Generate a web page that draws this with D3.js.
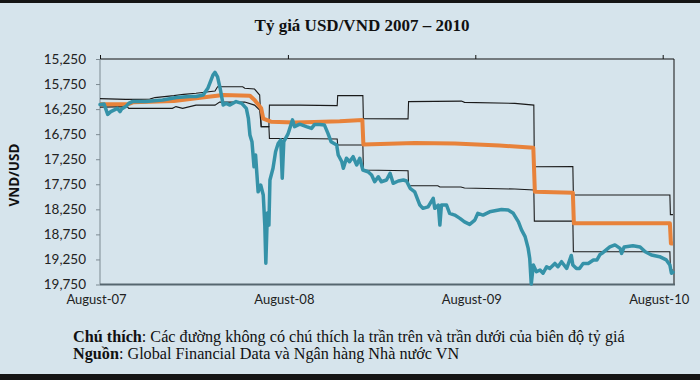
<!DOCTYPE html>
<html>
<head>
<meta charset="utf-8">
<script src="https://cdn.jsdelivr.net/npm/d3@7"></script>
<style>
  html, body { margin: 0; padding: 0; background: #ffffff; }
  svg { display: block; }
</style>
</head>
<body>
<svg id="chart" width="700" height="380"></svg>
<script>
// ---------------- DATA ----------------
const title = "Tỷ giá USD/VND 2007 – 2010";
const yAxisTitle = "VND/USD";
const yTicks = [15250, 15750, 16250, 16750, 17250, 17750, 18250, 18750, 19250, 19750];
const xTicks = ["2007-08-01", "2008-08-01", "2009-08-01", "2010-08-01"];
const xTickLabels = ["August-07", "August-08", "August-09", "August-10"];

// Official (central) rate - orange
const officialRate = [
  ["2007-08-01",16155],["2007-09-24",16155],["2007-10-04",16115],["2007-12-23",16090],
  ["2008-02-08",16030],["2008-03-28",15970],["2008-05-19",15985],["2008-05-28",16070],
  ["2008-06-10",16235],["2008-06-14",16440],["2008-06-29",16500],["2008-08-14",16515],
  ["2008-09-22",16505],["2008-11-10",16490],["2008-12-24",16465],["2008-12-26",16955],
  ["2009-04-05",16925],["2009-06-22",16935],["2009-09-17",16975],["2009-11-22",17020],
  ["2009-11-25",17900],["2010-02-07",17920],["2010-02-09",18530],["2010-08-15",18530],
  ["2010-08-17",18930],["2010-08-21",18930]
];

// Lower limit of the trading band (drawn above the orange line on the reversed axis)
const bandLower = [
  ["2007-08-01",16040],["2007-09-20",16055],["2007-11-06",16050],["2007-11-16",16020],
  ["2007-12-23",15980],["2008-01-11",15955],["2008-02-04",15935],["2008-03-12",15890],
  ["2008-03-17",15805],["2008-05-05",15805],["2008-05-09",15835],["2008-05-28",15850],
  ["2008-06-07",15970],["2008-06-10",16600],["2008-06-25",16600],["2008-06-26",16170],
  ["2008-08-24",16170],["2008-11-05",16180],["2008-11-06",15980],["2008-12-25",15980],
  ["2008-12-26",16440],["2009-03-23",16445],["2009-03-24",16100],["2009-07-05",16090],
  ["2009-07-11",16115],["2009-10-17",16135],["2009-11-23",16170],["2009-11-24",17400],
  ["2010-02-07",17395],["2010-02-08",17965],["2010-08-15",17965],["2010-08-16",18355],
  ["2010-08-21",18355]
];

// Upper limit of the trading band (drawn below the orange line on the reversed axis)
const bandUpper = [
  ["2007-08-01",16210],["2007-09-23",16200],["2007-09-26",16235],["2007-12-20",16235],
  ["2007-12-27",16200],["2008-01-09",16235],["2008-02-04",16170],["2008-03-12",16170],
  ["2008-03-21",16110],["2008-05-09",16110],["2008-05-28",16170],["2008-06-07",16270],
  ["2008-06-10",16600],["2008-06-25",16600],["2008-06-26",16835],["2008-08-24",16835],
  ["2008-11-05",16845],["2008-11-06",16965],["2008-12-25",16965],["2008-12-26",17465],
  ["2009-03-23",17480],["2009-03-24",17780],["2009-05-20",17780],["2009-05-24",17805],
  ["2009-07-04",17805],["2009-07-11",17825],["2009-10-17",17845],["2009-11-23",17865],
  ["2009-11-24",18485],["2010-02-07",18485],["2010-02-08",19095],["2010-08-15",19095],
  ["2010-08-16",19460],["2010-08-21",19460]
];

// Free-market rate - teal
const marketRate = [
  ["2007-08-01",16160],["2007-08-09",16150],["2007-08-16",16355],["2007-08-22",16300],
  ["2007-08-28",16270],["2007-09-04",16235],["2007-09-09",16300],["2007-09-12",16250],
  ["2007-09-20",16200],["2007-09-26",16135],["2007-10-03",16100],["2007-10-29",16100],
  ["2007-12-01",16070],["2007-12-28",16020],["2008-01-23",16000],["2008-02-04",16000],
  ["2008-02-18",15970],["2008-02-27",15835],["2008-03-08",15570],["2008-03-12",15515],
  ["2008-03-17",15605],["2008-03-22",15835],["2008-03-28",16170],["2008-04-03",16135],
  ["2008-04-10",16170],["2008-04-22",16100],["2008-05-03",16135],["2008-05-12",16235],
  ["2008-05-16",16435],["2008-05-19",16765],["2008-05-23",16900],["2008-05-27",17400],
  ["2008-05-30",17165],["2008-06-04",17900],["2008-06-09",17765],["2008-06-14",17965],
  ["2008-06-17",18565],["2008-06-19",19325],["2008-06-22",18325],["2008-06-25",18565],
  ["2008-06-27",17665],["2008-07-03",17430],["2008-07-08",17100],["2008-07-13",16935],
  ["2008-07-18",16865],["2008-07-21",17630],["2008-07-24",16900],["2008-08-01",16750],
  ["2008-08-10",16465],["2008-08-14",16600],["2008-08-24",16550],["2008-09-06",16600],
  ["2008-09-16",16635],["2008-09-22",16555],["2008-10-02",16555],["2008-10-11",16565],
  ["2008-10-18",16735],["2008-10-24",16900],["2008-11-04",16965],["2008-11-07",17165],
  ["2008-11-14",17300],["2008-11-17",17430],["2008-11-23",17230],["2008-11-29",17300],
  ["2008-12-06",17200],["2008-12-13",17365],["2008-12-19",17230],["2008-12-25",17465],
  ["2009-01-04",17500],["2009-01-11",17565],["2009-01-17",17700],["2009-01-24",17600],
  ["2009-01-30",17700],["2009-02-09",17665],["2009-02-16",17530],["2009-02-22",17730],
  ["2009-03-04",17685],["2009-03-14",17665],["2009-03-20",17685],["2009-03-27",17830],
  ["2009-04-05",17900],["2009-04-15",18165],["2009-04-21",18230],["2009-05-01",18200],
  ["2009-05-11",18030],["2009-05-14",18230],["2009-05-21",18165],["2009-05-24",18565],
  ["2009-05-27",18165],["2009-06-06",18165],["2009-06-12",18330],["2009-06-22",18365],
  ["2009-07-02",18430],["2009-07-11",18500],["2009-07-21",18550],["2009-07-31",18465],
  ["2009-08-06",18330],["2009-08-16",18365],["2009-08-29",18300],["2009-09-08",18280],
  ["2009-09-21",18255],["2009-10-04",18265],["2009-10-14",18330],["2009-10-24",18500],
  ["2009-10-30",18660],["2009-11-06",18795],["2009-11-12",19030],["2009-11-15",19230],
  ["2009-11-18",19740],["2009-11-22",19360],["2009-11-28",19495],["2009-12-05",19460],
  ["2009-12-11",19525],["2009-12-18",19395],["2009-12-24",19430],["2010-01-03",19330],
  ["2010-01-09",19395],["2010-01-16",19295],["2010-01-26",19430],["2010-02-04",19170],
  ["2010-02-07",19360],["2010-02-14",19430],["2010-02-20",19430],["2010-02-27",19330],
  ["2010-03-09",19330],["2010-03-19",19260],["2010-03-26",19260],["2010-04-01",19150],
  ["2010-04-07",19110],["2010-04-20",19000],["2010-04-30",18960],["2010-05-10",19030],
  ["2010-05-13",19130],["2010-05-18",19000],["2010-06-04",18975],["2010-06-18",19000],
  ["2010-06-28",19095],["2010-07-10",19160],["2010-07-26",19195],["2010-08-08",19260],
  ["2010-08-15",19360],["2010-08-18",19525],["2010-08-21",19505]
];

const noteLabel1 = "Chú thích";
const noteText1 = ": Các đường không có chú thích la trần trên và trần dưới của biên độ tỷ giá";
const noteLabel2 = "Nguồn";
const noteText2 = ": Global Financial Data và Ngân hàng Nhà nước VN";

// ---------------- DRAW ----------------
const parse = d3.timeParse("%Y-%m-%d");
const svg = d3.select("#chart");
const W = 700, H = 380;

svg.append("rect").attr("x", 0).attr("y", 0).attr("width", W).attr("height", H).attr("fill", "#d6e4ec");
svg.append("rect").attr("x", 0).attr("y", 0).attr("width", W).attr("height", 3).attr("fill", "#151515");
svg.append("rect").attr("x", 0).attr("y", 374).attr("width", W).attr("height", 6).attr("fill", "#151515");

const plot = { left: 100, right: 674, top: 59, bottom: 284.5 };

const x = d3.scaleTime()
  .domain([parse("2007-08-01"), parse("2010-08-01")])
  .range([100, 662.7]);
const y = d3.scaleLinear()
  .domain([15250, 19750])
  .range([plot.top, plot.bottom]);

// Title
svg.append("text")
  .attr("x", 362).attr("y", 31)
  .attr("text-anchor", "middle")
  .attr("font-family", "'Liberation Serif', 'Times New Roman', serif")
  .attr("font-weight", "bold")
  .attr("font-size", 17)
  .attr("fill", "#111")
  .text(title);

// Y axis
const yAxis = svg.append("g")
  .attr("transform", `translate(${plot.left},0)`)
  .call(d3.axisLeft(y).tickValues(yTicks).tickFormat(d3.format(",")).tickSize(4).tickSizeOuter(0).tickPadding(10));
yAxis.select(".domain").remove();
yAxis.selectAll(".tick line").attr("stroke", "#7d8a92");
yAxis.selectAll(".tick text")
  .attr("font-family", "Lato, 'Open Sans', sans-serif")
  .attr("font-size", 13.5)
  .attr("fill", "#222");

// Top axis ticks
const topAxis = svg.append("g")
  .attr("transform", `translate(0,${plot.top})`)
  .call(d3.axisTop(x).tickValues(xTicks.map(parse)).tickSize(4).tickSizeOuter(0).tickFormat(""));
topAxis.select(".domain").remove();
topAxis.selectAll(".tick line").attr("stroke", "#111");

// Bottom axis labels
const bottomAxis = svg.append("g")
  .attr("transform", `translate(0,${plot.bottom})`)
  .call(d3.axisBottom(x).tickValues(xTicks.map(parse)).tickSize(0).tickPadding(10)
    .tickFormat((d, i) => xTickLabels[i]));
bottomAxis.select(".domain").remove();
bottomAxis.selectAll(".tick text")
  .attr("dx", -4)
  .attr("font-family", "Lato, 'Open Sans', sans-serif")
  .attr("font-size", 13)
  .attr("fill", "#222");

// Frame lines
svg.append("line").attr("x1", plot.left).attr("x2", plot.right).attr("y1", plot.top).attr("y2", plot.top)
  .attr("stroke", "#111").attr("stroke-width", 1);
svg.append("line").attr("x1", plot.right).attr("x2", plot.right).attr("y1", plot.top).attr("y2", plot.bottom)
  .attr("stroke", "#111").attr("stroke-width", 1);
svg.append("line").attr("x1", plot.left).attr("x2", plot.left).attr("y1", plot.top).attr("y2", plot.bottom)
  .attr("stroke", "#7d8a92").attr("stroke-width", 1);
svg.append("line").attr("x1", plot.left).attr("x2", plot.right + 1).attr("y1", plot.bottom).attr("y2", plot.bottom)
  .attr("stroke", "#56666f").attr("stroke-width", 2);

// Y axis title
svg.append("text")
  .attr("transform", "translate(19,175) rotate(-90)")
  .attr("text-anchor", "middle")
  .attr("font-family", "'Open Sans', sans-serif")
  .attr("font-weight", "bold")
  .attr("font-size", 13.5)
  .attr("fill", "#111")
  .text(yAxisTitle);

// Lines
const line = d3.line().x(d => x(parse(d[0]))).y(d => y(d[1]));

svg.append("path").datum(bandLower).attr("d", line)
  .attr("fill", "none").attr("stroke", "#1a1a1a").attr("stroke-width", 1.1);
svg.append("path").datum(bandUpper).attr("d", line)
  .attr("fill", "none").attr("stroke", "#1a1a1a").attr("stroke-width", 1.1);
svg.append("path").datum(officialRate).attr("d", line)
  .attr("fill", "none").attr("stroke", "#e8823a").attr("stroke-width", 4)
  .attr("stroke-linejoin", "round");
svg.append("path").datum(marketRate).attr("d", line)
  .attr("fill", "none").attr("stroke", "#3592a8").attr("stroke-width", 3.5)
  .attr("stroke-linejoin", "round").attr("stroke-linecap", "round");

// Footnotes
const note = svg.append("g")
  .attr("font-family", "'Liberation Serif', 'Times New Roman', serif")
  .attr("font-size", 16.2)
  .attr("fill", "#111");
const t1 = note.append("text").attr("x", 73).attr("y", 342);
t1.append("tspan").attr("font-weight", "bold").text(noteLabel1);
t1.append("tspan").text(noteText1);
const t2 = note.append("text").attr("x", 73).attr("y", 359);
t2.append("tspan").attr("font-weight", "bold").text(noteLabel2);
t2.append("tspan").text(noteText2);
</script>
</body>
</html>
